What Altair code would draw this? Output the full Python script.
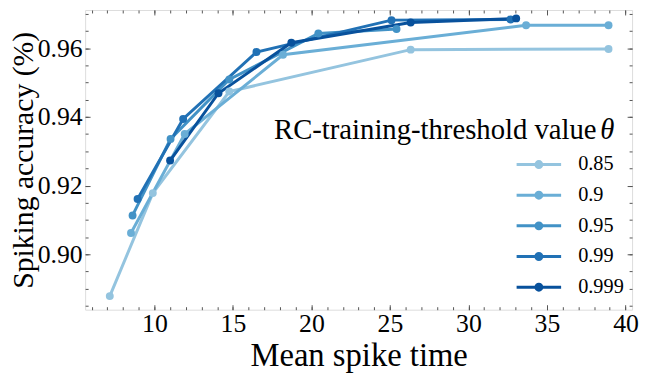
import altair as alt
import pandas as pd

# ---- data ----
thetas = ["0.85", "0.9", "0.95", "0.99", "0.999"]
colors = ["#94c4df", "#6aaed6", "#4292c6", "#2171b5", "#08519c"]

x_085 = [7.16, 9.90, 14.77, 26.32, 38.92]
y_085 = [0.8878, 0.9178, 0.9474, 0.9596, 0.9598]
x_090 = [8.51, 11.93, 18.19, 33.67, 38.92]
y_090 = [0.9062, 0.9350, 0.9581, 0.9667, 0.9667]
x_095 = [8.61, 11.03, 14.77, 20.44, 25.42]
y_095 = [0.9113, 0.9336, 0.9509, 0.9643, 0.9656]
x_099 = [8.93, 11.83, 16.50, 25.10, 32.68]
y_099 = [0.9161, 0.9394, 0.9589, 0.9682, 0.9684]
x_0999 = [11.00, 14.08, 18.72, 26.32, 33.04]
y_0999 = [0.9273, 0.9469, 0.9616, 0.9675, 0.9687]

x_major = [10, 15, 20, 25, 30, 35, 40]
x_minor = list(range(6, 41))
y_major = [0.90, 0.92, 0.94, 0.96]
y_minor = [round(0.885 + 0.005 * i, 3) for i in range(18)]

x_domain = [5.59, 40.42]
y_domain = [0.88384, 0.97115]

legend_title = "RC-training-threshold value"
legend_symbol = "θ"

xs = [x_085, x_090, x_095, x_099, x_0999]
ys = [y_085, y_090, y_095, y_099, y_0999]
rows = []
for t, xx, yy in zip(thetas, xs, ys):
    for i, (a, b) in enumerate(zip(xx, yy)):
        rows.append({"theta": t, "x": a, "y": b, "order": i})
df = pd.DataFrame(rows)

FONT = "Liberation Serif"
FRAME = "#555555"
xscale = alt.Scale(domain=x_domain, nice=False, zero=False)
yscale = alt.Scale(domain=y_domain, nice=False, zero=False)
cscale = alt.Scale(domain=thetas, range=colors)

base = alt.Chart(df)

lines = base.mark_line(strokeWidth=3).encode(
    x=alt.X("x:Q", scale=xscale, axis=alt.Axis(
        orient="bottom", values=x_major, tickSize=5, offset=-5, domain=False,
        grid=False, labelPadding=1, labelFlush=False, tickColor=FRAME,
        title="Mean spike time", titleFontSize=33, titlePadding=3,
        titleFontWeight="normal", titleFont=FONT, labelFont=FONT,
        labelFontSize=26, labelColor="black", titleColor="black")),
    y=alt.Y("y:Q", scale=yscale, axis=alt.Axis(
        orient="left", values=y_major, format=".2f", tickSize=5, offset=-5,
        domain=False, grid=False, labelPadding=3, labelFlush=False,
        tickColor=FRAME, title="Spiking accuracy (%)", titleFontSize=30,
        titlePadding=-1, titleFontWeight="normal", titleFont=FONT,
        labelFont=FONT, labelFontSize=26, labelColor="black",
        titleColor="black")),
    color=alt.Color("theta:N", scale=cscale, legend=alt.Legend(
        orient="none", legendX=448.5, legendY=146, title=None,
        symbolType="M-3,0H3M0.4,0A0.4,0.4,0,1,1,-0.4,0A0.4,0.4,0,1,1,0.4,0",
        symbolSize=225, symbolStrokeWidth=3, labelFont=FONT,
        labelFontSize=20.5, labelColor="black", labelOffset=29.5,
        rowPadding=10, padding=0)),
    order="order:Q",
)

points = base.mark_circle(size=64, opacity=1).encode(
    x=alt.X("x:Q", scale=xscale, axis=alt.Axis(
        orient="top", values=x_major, tickSize=5, offset=-5, domain=False,
        grid=False, labels=False, title=None, tickColor=FRAME)),
    y=alt.Y("y:Q", scale=yscale, axis=alt.Axis(
        orient="right", values=y_major, tickSize=5, offset=-5, domain=False,
        grid=False, labels=False, title=None, tickColor=FRAME)),
    color=alt.Color("theta:N", scale=cscale, legend=None),
)

minor1 = base.mark_point(opacity=0).encode(
    x=alt.X("x:Q", scale=xscale, axis=alt.Axis(
        orient="bottom", values=x_minor, tickSize=3, offset=-3, domain=False,
        grid=False, labels=False, title=None, tickColor=FRAME)),
    y=alt.Y("y:Q", scale=yscale, axis=alt.Axis(
        orient="left", values=y_minor, tickSize=3, offset=-3, domain=False,
        grid=False, labels=False, title=None, tickColor=FRAME)),
)

minor2 = base.mark_point(opacity=0).encode(
    x=alt.X("x:Q", scale=xscale, axis=alt.Axis(
        orient="top", values=x_minor, tickSize=3, offset=-3, domain=False,
        grid=False, labels=False, title=None, tickColor=FRAME)),
    y=alt.Y("y:Q", scale=yscale, axis=alt.Axis(
        orient="right", values=y_minor, tickSize=3, offset=-3, domain=False,
        grid=False, labels=False, title=None, tickColor=FRAME)),
)

title_df = pd.DataFrame({"t": [legend_title], "s": [legend_symbol]})
ltitle = alt.Chart(title_df).mark_text(
    font=FONT, fontSize=29, align="left", baseline="alphabetic",
    color="black").encode(text="t:N", x=alt.value(191), y=alt.value(130))
ltheta = alt.Chart(title_df).mark_text(
    font=FONT, fontSize=29, align="right", baseline="alphabetic",
    fontStyle="italic", color="black").encode(
    text="s:N", x=alt.value(535), y=alt.value(130))

chart = alt.layer(lines, points, minor1, minor2, ltitle, ltheta).resolve_axis(
    x="independent", y="independent"
).properties(
    width=553, height=303,
    autosize=alt.AutoSizeParams(type="none"),
    padding={"left": 78, "top": 0, "right": 7, "bottom": 62},
).configure_view(stroke=FRAME, strokeWidth=1).configure(background="white")

chart.save("out.html", embed_options={"renderer": "svg", "actions": False})
